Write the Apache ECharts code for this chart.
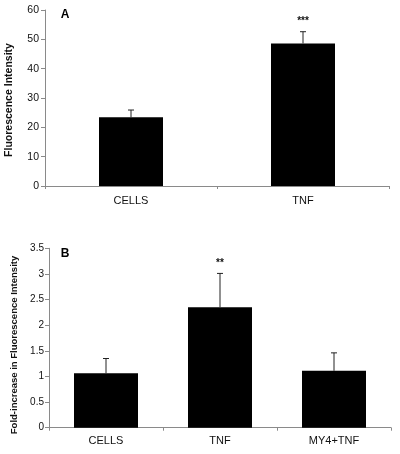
<!DOCTYPE html>
<html><head><meta charset="utf-8">
<script src="https://cdn.jsdelivr.net/npm/echarts@6/dist/echarts.min.js"></script>
<style>html,body{margin:0;padding:0;background:#fff}#c{width:400px;height:454px}</style>
</head><body><div id="c"></div>
<script>
const catsA = ['CELLS', 'TNF'];
const valsA = [23.4, 48.6];
const errA = [2.5, 4.0];
const sigA = ['', '***'];
const ticksA = { min: 0, max: 60, interval: 10 };

const catsB = ['CELLS', 'TNF', 'MY4+TNF'];
const valsB = [1.06, 2.35, 1.11];
const errB = [0.29, 0.66, 0.35];
const sigB = ['', '**', ''];
const ticksB = { min: 0, max: 3.5, interval: 0.5 };

const FONT = 'Liberation Sans, Arial, sans-serif';
const chart = echarts.init(document.getElementById('c'), null, { renderer: 'canvas' });

function errSeries(xi, yi, vals, errs, sigs) {
  return {
    type: 'custom', xAxisIndex: xi, yAxisIndex: yi, z: 5,
    data: vals.map((v, i) => [i, v, v + errs[i], sigs[i]]),
    renderItem: function (params, api) {
      const b = api.coord([api.value(0), api.value(1)]);
      const t = api.coord([api.value(0), api.value(2)]);
      const sig = sigs[params.dataIndex];
      const children = [
        { type: 'line', shape: { x1: b[0], y1: b[1], x2: t[0], y2: t[1] }, style: { stroke: '#222', lineWidth: 1 } },
        { type: 'line', shape: { x1: t[0] - 3, y1: t[1], x2: t[0] + 3, y2: t[1] }, style: { stroke: '#222', lineWidth: 1 } }
      ];
      if (sig) {
        children.push({ type: 'text', style: { text: sig, x: t[0], y: t[1] - 5, textAlign: 'center', textVerticalAlign: 'bottom', font: 'bold 10px ' + FONT, fill: '#111' } });
      }
      return { type: 'group', children: children };
    }
  };
}

const axisLine = { lineStyle: { color: '#8a8a8a', width: 1 } };
const lbl = { color: '#111', fontSize: 10.5, fontFamily: FONT };
const catLbl = { color: '#111', fontSize: 11, fontFamily: FONT };

chart.setOption({
  animation: false,
  grid: [
    { left: 45, right: 11, top: 10, bottom: 268 },
    { left: 49, right: 9, top: 248.3, bottom: 26.3 }
  ],
  xAxis: [
    { type: 'category', gridIndex: 0, data: catsA, axisLine: axisLine, axisTick: { show: true, length: 3, lineStyle: { color: '#8a8a8a' } }, axisLabel: Object.assign({ margin: 9 }, catLbl) },
    { type: 'category', gridIndex: 1, data: catsB, axisLine: axisLine, axisTick: { show: true, length: 3, lineStyle: { color: '#8a8a8a' } }, axisLabel: Object.assign({ margin: 8 }, catLbl) }
  ],
  yAxis: [
    { type: 'value', gridIndex: 0, min: ticksA.min, max: ticksA.max, interval: ticksA.interval, splitLine: { show: false }, axisLine: Object.assign({ show: true }, axisLine), axisTick: { show: true, length: 4, lineStyle: { color: '#8a8a8a' } }, axisLabel: Object.assign({ margin: 6 }, lbl) },
    { type: 'value', gridIndex: 1, min: ticksB.min, max: ticksB.max, interval: ticksB.interval, splitLine: { show: false }, axisLine: Object.assign({ show: true }, axisLine), axisTick: { show: true, length: 4, lineStyle: { color: '#8a8a8a' } }, axisLabel: Object.assign({}, lbl, { margin: 5, fontSize: 10 }) }
  ],
  series: [
    { type: 'bar', xAxisIndex: 0, yAxisIndex: 0, data: valsA, barWidth: 64, itemStyle: { color: '#000' } },
    errSeries(0, 0, valsA, errA, sigA),
    { type: 'bar', xAxisIndex: 1, yAxisIndex: 1, data: valsB, barWidth: 64, itemStyle: { color: '#000' } },
    errSeries(1, 1, valsB, errB, sigB)
  ],
  graphic: [
    { type: 'text', x: 9, y: 100, rotation: Math.PI / 2, style: { text: 'Fluorescence Intensity', textAlign: 'center', textVerticalAlign: 'middle', font: 'bold 10.5px ' + FONT, fill: '#111' } },
    { type: 'text', x: 14, y: 345, rotation: Math.PI / 2, style: { text: 'Fold-increase in Fluorescence Intensity', textAlign: 'center', textVerticalAlign: 'middle', font: 'bold 9.5px ' + FONT, fill: '#111' } },
    { type: 'text', x: 65, y: 15, style: { text: 'A', textAlign: 'center', textVerticalAlign: 'middle', font: 'bold 12px ' + FONT, fill: '#000' } },
    { type: 'text', x: 65, y: 254, style: { text: 'B', textAlign: 'center', textVerticalAlign: 'middle', font: 'bold 12px ' + FONT, fill: '#000' } }
  ]
});
</script></body></html>
